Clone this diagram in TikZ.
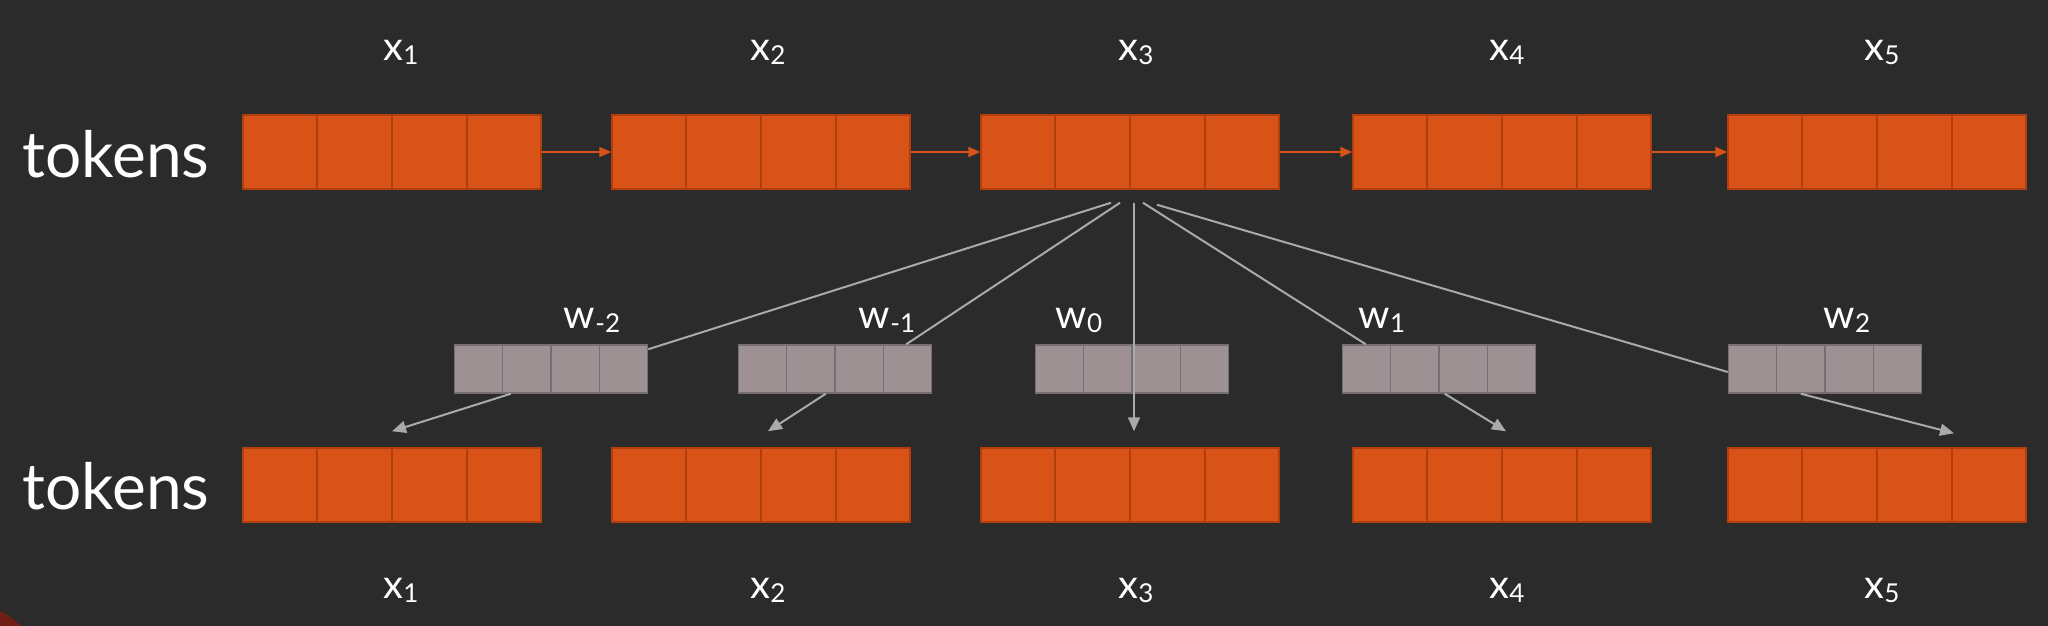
\documentclass[tikz,border=0pt]{standalone}
\usepackage{fontspec}
\setmainfont{Lato}
\usetikzlibrary{arrows.meta,calc}
\definecolor{bg}{RGB}{43,43,43}
\definecolor{tokfill}{RGB}{217,82,24}
\definecolor{tokborder}{RGB}{178,62,14}
\definecolor{wfill}{RGB}{158,145,148}
\definecolor{wborder}{RGB}{118,110,112}
\definecolor{linegray}{RGB}{170,170,170}
\definecolor{headred}{RGB}{110,30,20}
\definecolor{skin}{RGB}{200,120,100}
\newcommand\lsub[1]{\raisebox{-4pt}{\fontsize{26}{26}\selectfont #1}}
\newcommand\mycells[2]{\foreach \f in {0.25,0.5,0.75}{\draw[#2,line width=1.5pt] ($(#1.north west)!\f!(#1.north east)$) -- ($(#1.south west)!\f!(#1.south east)$);}}
\begin{document}
\begin{tikzpicture}[x=1pt,y=-1pt,
  tok/.style={draw=tokborder, fill=tokfill, line width=1.5pt, minimum width=298pt, minimum height=74pt, inner sep=0pt},
  wbox/.style={draw=wborder, fill=wfill, line width=1.5pt, minimum width=193pt, minimum height=48pt, inner sep=0pt},
  lbl/.style={text=white, font=\fontsize{40}{40}\selectfont, inner sep=0pt},
  big/.style={text=white, font=\fontsize{64}{64}\selectfont, inner sep=0pt},
  fan/.style={draw=linegray, line width=2pt},
  fanarrow/.style={fan, -{Triangle[length=14pt,width=12pt]}},
  seqarrow/.style={draw=tokfill, line width=2pt, -{Triangle[length=12pt,width=10pt]}}]
\fill[bg] (0,0) rectangle (2048,626);
\useasboundingbox (0,0) rectangle (2048,626);
\begin{scope}
\clip (0,0) rectangle (2048,626);
\fill[headred] (-25,668) circle (62);
\fill[skin] (-25,672) circle (50);
\end{scope}

% row labels
\node[big] (tokT) at (116,154) {tokens};
\node[big] (tokB) at (116,486) {tokens};

% token boxes
\foreach \n/\x in {1/392,2/761,3/1130,4/1502,5/1877}{
  \node[tok] (t\n) at (\x,152) {};
  \mycells{t\n}{tokborder}
  \node[tok] (b\n) at (\x,485) {};
  \mycells{b\n}{tokborder}
}

% x labels
\foreach \n/\x in {1/401,2/768,3/1136,4/1507,5/1882}{
  \node[lbl] (lt\n) at (\x,52) {x\lsub{\n}};
  \node[lbl] (lb\n) at (\x,590) {x\lsub{\n}};
}

% weight boxes
\node[wbox] (wm2) at (551,369) {}; \mycells{wm2}{wborder}
\node[wbox] (wm1) at (835,369) {}; \mycells{wm1}{wborder}
\node[wbox] (w0) at (1132,369) {}; \mycells{w0}{wborder}
\node[wbox] (w1) at (1439,369) {}; \mycells{w1}{wborder}
\node[wbox] (w2) at (1825,369) {}; \mycells{w2}{wborder}

% weight labels
\node[lbl] (lwm2) at (592,320) {w\lsub{-2}};
\node[lbl] (lwm1) at (887,320) {w\lsub{-1}};
\node[lbl] (lw0) at (1079,320) {w\lsub{0}};
\node[lbl] (lw1) at (1382,320) {w\lsub{1}};
\node[lbl] (lw2) at (1847,320) {w\lsub{2}};

% sequence arrows
\draw[seqarrow] (t1.east) -- (t2.west);
\draw[seqarrow] (t2.east) -- (t3.west);
\draw[seqarrow] (t3.east) -- (t4.west);
\draw[seqarrow] (t4.east) -- (t5.west);

% fan from x3
\coordinate (s1) at ($(t3.south)+(-19,13)$);
\coordinate (s2) at ($(t3.south)+(-10,13)$);
\coordinate (s3) at ($(t3.south)+(4,13)$);
\coordinate (s4) at ($(t3.south)+(13,13)$);
\coordinate (s5) at ($(t3.south)+(27,15)$);
\draw[fan] (s1) -- ($(wm2.north east)+(0,5)$);
\draw[fan] (s2) -- ($(wm1.north east)+(-26,0)$);
\draw[fanarrow] (s3) -- ($(b3.north)+(4,-16)$);
\draw[fan] (s4) -- ($(w1.north west)+(24,0)$);
\draw[fan] (s5) -- ($(w2.west)+(0,3)$);

% weights to output tokens
\draw[fanarrow] ($(wm2.south west)+(57,0)$) -- ($(b1.north)+(0,-16)$);
\draw[fanarrow] ($(wm1.south west)+(88,0)$) -- ($(b2.north)+(7,-16)$);
\draw[fanarrow] ($(w1.south west)+(103,0)$) -- ($(b4.north)+(4,-16)$);
\draw[fanarrow] ($(w2.south west)+(73,0)$) -- ($(b5.north)+(77,-14)$);
\end{tikzpicture}
\end{document}
